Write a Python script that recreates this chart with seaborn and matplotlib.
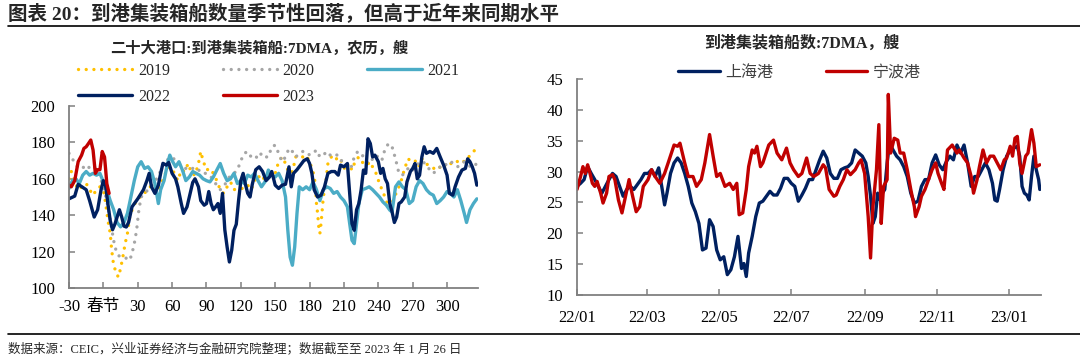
import pandas as pd
import numpy as np
import matplotlib.pyplot as plt
import matplotlib.dates as mdates
from matplotlib.lines import Line2D
import seaborn as sns

sns.set_theme(style='ticks')
plt.rcParams['font.family'] = ['Liberation Serif', 'Noto Sans CJK SC']
plt.rcParams['axes.unicode_minus'] = False

### 左图：二十大港口到港集装箱船（农历对齐，春节=0）
d19 = [-30,-28,-25,-22,-18,-15,-12,-9,-6,-3,0,2,4,6,7,8,9,11,13,15,17,19,21,23,26,29,32,35,38,41,
       44,47,50,53,56,59,62,65,68,71,74,77,80,83,85,87,90,93,96,99,102,105,108,111,114,117,120,123,126,129,
       132,135,138,141,144,147,150,153,156,159,162,165,168,171,174,177,180,183,185,186,187,188,189,190,191,192,194,196,199,202,
       205,208,211,214,217,220,223,226,229,232,235,238,241,244,247,249,251,254,257,260,263,266,269,272,275,278,281,284,287,290,
       293,296,299,302,305,308,311,314,317,320,323,326]
v19 = [160,164,158.3,154,156,157.4,154,151,154,155.6,154,146.4,137,130,122.6,117,112.5,108.8,106,110.6,
       117,124.4,130,139,144.6,148,150,151,154,155.6,154,152,156.5,161,165.7,166.6,163,159,164.8,164,
       168.4,163,162,168.4,175,170,164.8,165.7,163,159,154,152,155.6,158.3,154,154.7,154.7,154.7,156.5,154,
       159,162,159,161,163,164,163,169.4,172,168.4,163,164,172,173,172,173,169.4,164,157.4,146.4,
       141,133.6,130,135.4,143,150,157.4,168.4,172,170,172,169.4,164.8,168.4,164.8,170,172,169.4,164.8,169.4,
       166.6,163,157.4,152.8,148,143.7,144.6,150,154,159,165.7,171,169.4,170,166.6,171,168.4,167.5,166.6,164.8,
       165.7,168.4,166.6,167.5,169.4,170,168.4,169.4,170,173,175,176.7]

d20 = [-30,-27,-24,-21,-18,-15,-12,-9,-6,-3,0,3,5,7,9,11,13,15,18,21,23,25,27,29,31,33,36,39,42,45,
       48,51,54,57,60,63,66,69,72,75,78,81,84,87,90,93,96,99,102,105,108,111,114,117,120,123,126,129,132,135,
       138,141,144,147,150,153,156,159,162,165,168,171,174,177,180,183,186,189,192,195,198,201,204,207,210,213,216,219,222,225,
       228,231,234,237,240,243,246,249,252,255,258,261,264,267,270,273,276,279,282,285,288,291,294,297,300,303,306,309,312,315,
       318,321,324,326]
v20 = [174,171,167.5,165.7,166.6,164.8,166.6,167.5,164.8,161,155.6,148,141,133.6,126,120.7,118,117,117,116,
       115.2,119,124.4,131.7,143,150,152,154,155.6,159,161,166.6,169.4,171,172,170,168.4,166.6,165.7,164.8,
       165.7,164,164.8,163,163,162,159,156.5,154,155.6,159,162,163,164.8,170,174,175,172,173,171,
       174,172,172,177.6,178.5,174,169.4,172,176.7,175,172,174,175,175,173,174,175.8,172,173,175,
       173,174,173,170,170,166.6,165.7,172,175,174,171,168.4,170,173,172,170,176.7,179.4,177.6,171,
       163,162,164,166.6,164.8,166.6,169.4,169.4,167.5,164.8,163,164.8,166.6,168.4,167.5,169.4,168.4,166.6,167.5,169.4,
       167.5,166.6,168.4,167.5]

d21 = [-30,-27,-24,-21,-18,-15,-12,-9,-6,-3,0,3,6,9,12,15,18,21,24,27,30,33,36,39,42,45,48,50,53,56,58,60,
       63,66,69,72,75,78,81,84,87,90,93,96,99,102,105,108,111,114,117,120,123,126,129,132,135,138,141,144,147,150,
       153,156,159,161,163,165,167,169,171,174,177,180,183,186,189,192,195,198,201,204,207,210,213,215,217,219,221,223,
       226,229,232,235,238,241,244,247,250,252,255,258,261,264,267,270,273,276,279,282,285,288,291,294,297,300,303,306,309,312,
       315,317,320,323,326]
v21 = [154.7,159,160,157.4,162,164,162,163,162,163,158.3,154,148,143,136,133.6,136,141,150,159,
       166.6,169.4,165.7,166.6,164,157.4,146.4,154,159,168.4,173,170,
       166.6,169.4,164.8,159,161,164,163,162,160,159,158.3,161,164.8,168.4,163,159,160,163,157.4,159,
       157.4,162,161,163,159,155.6,158.3,164.8,162,161,163,159,150,131.7,117,112.5,122.6,141,155.6,
       154,155.6,154,158.3,154,148,154,155.6,154.7,152,153,150,148,144.6,135.4,126.2,124.4,135.4,146.4,
       154,154.7,155.6,154,152,150,147.3,145.5,142.8,141.8,155.6,158.3,155.6,154,146.4,148,155.6,159,157.4,154,
       152,151,146.4,148,150,153,152,150,154,148,141,136,143,146.4,149]

d22 = [-30,-25,-22,-15,-12,-8,-5,-2,0,2,4,6,8,10,12,14,16,18,20,22,25,30,35,38,40,42,45,48,50,52,
       55,57,60,63,65,68,70,73,75,78,80,83,85,88,90,92,94,96,98,100,102,104,106,108,110,112,114,116,118,120,
       122,124,126,128,130,133,136,139,142,145,147,150,153,156,159,162,164,166,169,172,175,178,180,182,184,187,190,193,196,199,
       202,205,207,210,213,215,217,219,221,223,225,227,229,231,233,235,237,240,242,244,246,248,250,252,254,256,258,260,263,265,
       268,270,272,274,276,278,280,282,285,288,291,294,297,300,302,305,307,310,313,316,318,320,322,324,326]
v22 = [149,150.5,157,154,148,139,143,154,159,156,146,137,132,135,139,143,139,134,133.5,136,144.6,149,154,159,163,155.6,152,156.5,163,168.5,
       167.5,169,163,160,155.6,146.4,141,144.6,150,158,160,155.6,148,145.5,146.4,153,146.4,143,144.6,146.4,141,152,132,122.6,114.3,120.7,131.7,135,148,159,
       163,157,152,150,157,165,166.6,164,159,161,164,156.5,154.7,156.5,157,166.6,155.6,163,165,167.5,170,171,168.4,163,154,150,151,155.6,163,164,
       164,162,167.5,166.6,168.4,152,135.4,131.7,143,146.4,154,164.8,163,182,179.4,172,173,169.4,163,165.7,160,157.4,146.4,141.8,136,139,146.4,147.3,150,158.3,
       164,165.7,168.4,160,162,172,177.6,174,175,174,176.7,172,167.5,162,152,151,155.6,161,164.8,165.7,171,169.4,166.6,163,156.5]

d23 = [-30,-28,-25,-22,-19,-17,-15,-13,-11,-9,-7,-5,-3,-1,1,2,3,5]
v23 = [156.5,155.6,159,169.4,173,176.7,177.6,179.4,181.3,175.8,163,165,165,175,172,165,157.4,152]

### 右图：上海港、宁波港（2022-01-01 起的天数）
sh_days = [0,3,6,9,12,15,18,21,24,27,30,33,36,39,42,45,48,51,54,57,60,63,66,69,72,74,76,79,82,85,
           88,91,94,97,100,103,106,109,112,115,118,121,124,127,130,133,136,139,141,143,145,148,151,154,157,160,163,166,169,172,
           175,178,181,184,187,190,193,196,199,202,205,208,211,214,217,220,223,226,229,232,235,238,241,244,246,248,250,252,254,256,
           258,260,262,264,267,270,273,276,279,282,285,288,291,294,297,300,303,306,309,312,315,318,321,324,327,330,333,336,339,342,
           345,348,351,353,355,357,360,363,366,369,372,374,376,378,380,382,384,386,388,390,391]
sh_vals = [27.6,28.1,28.7,30.8,29.7,28.7,27.6,26.5,27.6,28.7,29.7,29.2,27.6,26,27.1,27.6,27.1,27.9,28.7,29.7,
           29.7,30.3,29.2,30.6,27.1,24.6,26.5,29.7,31.4,32.2,31.4,29.7,27.6,24.9,23.5,21.6,17.3,17.6,22.2,21.1,
           17.3,15.7,16.2,13.3,14.1,16.2,19.5,14.3,15.1,13,16.8,19.5,22.7,24.9,25.2,26,26.8,26.2,26.2,27.3,
           28.9,28.9,28.1,27.6,25.2,26.2,27.3,28.7,28.7,30.3,31.9,33.3,32.2,29.7,28.9,28.9,30.3,30.6,30.8,31.4,
           33.5,33,32.5,31.4,29.2,26,21.6,22.7,26.5,25.4,26.5,27.1,31.4,34.6,33.5,32.5,31.9,30.8,29.2,26.5,
           24.9,25.2,27.6,28.7,28.7,31.4,32.7,31.1,30.3,31.6,32.5,31.9,34.3,33,34.3,31.4,27.6,29.2,29.2,30.3,
           31.4,30.3,28.1,25.4,25.2,27.1,30.3,32.5,33.5,33.8,34.1,32.5,27.6,26.5,26.2,25.4,29.2,32.5,30.3,28.7,27.1]

nb_days = [0,3,5,7,9,11,13,15,17,20,22,25,27,30,32,35,38,41,44,47,50,53,56,60,63,66,70,74,77,82,
           85,87,91,94,98,101,105,108,112,115,118,121,125,129,132,135,137,140,143,145,148,150,152,155,157,162,166,169,173,177,
           180,183,187,190,194,197,200,204,208,210,213,217,219,222,225,228,231,235,238,240,243,246,248,250,253,255,257,259,262,263,
           265,268,271,273,276,279,282,285,286,289,291,294,297,300,303,305,308,310,313,317,321,323,327,330,333,335,338,340,343,346,
           349,352,355,358,361,363,366,368,370,372,374,376,379,381,384,386,388,391]
nb_vals = [27.1,29.2,30.8,29.7,31.1,29.7,28.1,27.6,28.4,26.5,24.9,26.5,29.2,29.5,28.7,25.4,23.3,26,28.7,26,
           23.5,24.3,27.6,28.7,30.3,29.2,28.1,29.7,31.4,34.3,34.1,34.6,31.4,29.2,29.2,27.6,28.7,31.4,36,32.5,
           29.2,29.7,27.6,28.1,27.1,28.1,23,23.3,27.1,30.8,33.5,33,34.1,30.8,31.4,34.3,35.1,33,31.9,33.8,
           31.4,30.3,29.2,29.7,32.2,29.7,29.2,29.7,31.1,30.6,27.1,26,26.2,27.6,28.7,30.3,29.5,30.3,31.4,31.9,
           29.7,22.7,16,24.3,30.3,37.6,21.6,27.6,28.7,42.5,33,35.4,35.1,33,33,30.3,27.1,24.3,22.7,24.3,
           26,27.1,28.7,30.3,31.4,29.7,28.1,27.1,33.5,34.3,33,33.5,32.2,31.4,29.2,26.5,28.7,30.8,33.5,31.4,
           32.5,32.5,31.4,30.3,31.9,32.2,34.1,32.5,35.4,35.7,31.4,29.7,32.5,33,36.8,34.6,30.8,31.1]

start = pd.Timestamp('2022-01-01')
sh_dates = start + pd.to_timedelta(sh_days, unit='D')
nb_dates = start + pd.to_timedelta(nb_days, unit='D')

# 색상
c19, c20, c21, c22, c23 = '#FFC000', '#A6A6A6', '#4BACC6', '#002060', '#C00000'
axis_gray = '#808080'
lw = 2.4
dot = (0, (0.01, 2.3))

fig = plt.figure(figsize=(10.8, 3.62), dpi=100)
ax1 = fig.add_axes([69/1080, 1-288/362, (478-69)/1080, (288-106)/362])
ax2 = fig.add_axes([577/1080, 1-295/362, (1041-577)/1080, (295-79)/362])

# 左图
sns.lineplot(x=d19, y=v19, ax=ax1, color=c19, lw=lw, linestyle=dot, dash_capstyle='round', label='2019')
sns.lineplot(x=d20, y=v20, ax=ax1, color=c20, lw=lw, linestyle=dot, dash_capstyle='round', label='2020')
sns.lineplot(x=d21, y=v21, ax=ax1, color=c21, lw=lw, label='2021')
sns.lineplot(x=d22, y=v22, ax=ax1, color=c22, lw=lw, label='2022')
sns.lineplot(x=d23, y=v23, ax=ax1, color=c23, lw=lw, label='2023')

ax1.set_xlim(-30, 327)
ax1.set_ylim(100, 200)
ax1.set_yticks(range(100, 201, 20))
xt = list(range(-30, 301, 30))
ax1.set_xticks(xt)
ax1.set_xticklabels(['-30', '春节'] + [str(v) for v in xt[2:]])

# 右图
sns.lineplot(x=sh_dates, y=sh_vals, ax=ax2, color=c22, lw=lw, label='上海港')
sns.lineplot(x=nb_dates, y=nb_vals, ax=ax2, color=c23, lw=lw, label='宁波港')
ax2.set_xlim(pd.Timestamp('2022-01-01'), pd.Timestamp('2023-01-28'))
ax2.set_ylim(10, 45)
ax2.set_yticks(range(10, 46, 5))
ax2.xaxis.set_major_locator(mdates.MonthLocator(bymonth=[1, 3, 5, 7, 9, 11]))
ax2.xaxis.set_major_formatter(mdates.DateFormatter('%y/%m'))

for ax in (ax1, ax2):
    ax.set_xlabel('')
    ax.set_ylabel('')
    sns.despine(ax=ax)
    for s in ('left', 'bottom'):
        ax.spines[s].set_color(axis_gray)
        ax.spines[s].set_linewidth(1.3)
    ax.tick_params(direction='in', length=4, width=1.1, color=axis_gray,
                   labelsize=12, labelcolor='black')
    ax.tick_params(axis='y', pad=10)
    ax.get_legend().remove()
ax1.tick_params(axis='x', pad=8)
ax2.tick_params(axis='x', pad=11)

# 图例
h, l = ax1.get_legend_handles_labels()
order = [0, 3, 1, 4, 2]
fig.legend([h[i] for i in order], [l[i] for i in order], loc='upper left',
           bbox_to_anchor=(78/1080, 1-63/362), ncol=3, frameon=False, fontsize=11.5,
           handlelength=3.4, handletextpad=0.35, columnspacing=3.3, labelspacing=0.6,
           borderpad=0, borderaxespad=0)
h2, l2 = ax2.get_legend_handles_labels()
fig.legend(h2, l2, loc='center left', bbox_to_anchor=(678/1080, 1-73/362), ncol=2,
           frameon=False, fontsize=11.5, handlelength=2.6, handletextpad=0.35,
           columnspacing=3.3, borderpad=0, borderaxespad=0, labelcolor='#404040')

# 标题、注释
fig.text(8/1080, 1-14/362, '图表 20：到港集装箱船数量季节性回落，但高于近年来同期水平',
         fontsize=14, weight='bold', ha='left', va='center')
fig.add_artist(Line2D([8/1080, 1], [1-26/362, 1-26/362], color='black', lw=1.2))
fig.text(259/1080, 1-48/362, '二十大港口:到港集装箱船:7DMA，农历，艘',
         fontsize=11, weight='bold', ha='center', va='center')
fig.text(802/1080, 1-44/362, '到港集装箱船数:7DMA，艘',
         fontsize=11.5, weight='bold', ha='center', va='center')
fig.add_artist(Line2D([8/1080, 1], [1-334/362, 1-334/362], color='black', lw=1.2))
fig.text(8/1080, 1-349/362, '数据来源：CEIC，兴业证券经济与金融研究院整理；数据截至至 2023 年 1 月 26 日',
         fontsize=9, ha='left', va='center')

fig.savefig('out.png', dpi=100)
